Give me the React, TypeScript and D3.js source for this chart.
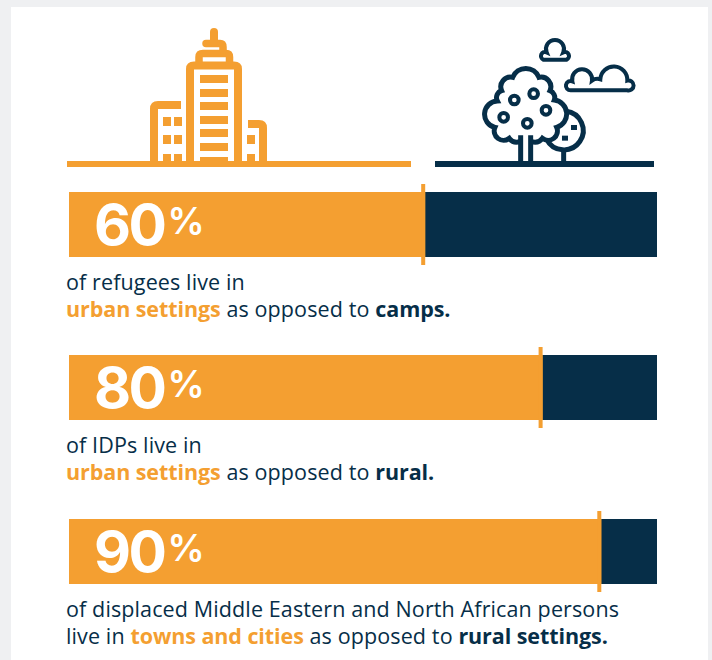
import React from "react";
import * as d3 from "d3";

const ORANGE = "#f49f31";
const NAVY = "#062e48";
const FONT = "'Open Sans', sans-serif";

const percentValues = [60, 80, 90];
const percentLabels = ["60", "80", "90"];
const firstParts = [
  [{ t: "of refugees live in" }],
  [{ t: "of IDPs live in" }],
  [{ t: "of displaced Middle Eastern and North African persons" }],
];
const secondParts = [
  [{ t: "urban settings", k: "o" }, { t: " as opposed to " }, { t: "camps.", k: "b" }],
  [{ t: "urban settings", k: "o" }, { t: " as opposed to " }, { t: "rural.", k: "b" }],
  [{ t: "live in " }, { t: "towns and cities", k: "o" }, { t: " as opposed to " }, { t: "rural settings.", k: "b" }],
];

const x = d3.scaleLinear().domain([0, 100]).range([73, 660]);
const y = d3.scaleBand<number>().domain([0, 1, 2]).range([192, 682.2]).paddingInner(0).paddingOuter(0);
const barH = 65;
const barLeft = 69;
const barRight = 657;

function Spans({ parts }: { parts: { t: string; k?: string }[] }) {
  return (
    <>
      {parts.map((p, i) => (
        <tspan
          key={i}
          fill={p.k === "o" ? ORANGE : NAVY}
          fontWeight={p.k ? 700 : 400}
          letterSpacing={p.k ? -0.08 : 0.12}
          style={{ whiteSpace: "pre" }}
        >
          {p.t}
        </tspan>
      ))}
    </>
  );
}

function City() {
  const rungs = [75, 89, 102, 116, 129, 143];
  const s = { fill: "none", stroke: ORANGE, strokeWidth: 8 };
  return (
    <g>
      <rect x={67} y={161} width={344} height={6} fill={ORANGE} />
      <path d="M190 161V69Q190 65.500 194 65.500H234Q238 65.500 238 69V161" {...s} />
      <path d="M199 62V57Q199 53.500 203 53.500H226Q229.500 53.500 229.500 57V62" {...s} strokeWidth={7.5} />
      <path d="M206 43.500H220Q223 43.500 223 47V50" {...s} strokeLinecap="round" strokeWidth={7.5} />
      <path d="M214 32V42" {...s} strokeLinecap="round" />
      {rungs.map((r) => <rect key={r} x={200} y={r} width={28} height={8} fill={ORANGE} />)}
      <rect x={200} y={157} width={28} height={5} fill={ORANGE} />
      <path d="M154 161V109Q154 105 158 105H181" {...s} />
      {[163, 174].flatMap((wx) => [117, 135, 154].map((wy) => (
        <rect key={wx + "-" + wy} x={wx} y={wy} width={8} height={wy === 154 ? 7 : 9} fill={ORANGE} />
      )))}
      <path d="M248 124H259Q263 124 263 128V161" {...s} />
      {[135, 154].map((wy) => <rect key={wy} x={247} y={wy} width={8} height={wy === 154 ? 7 : 9} fill={ORANGE} />)}
    </g>
  );
}

function Nature() {
  const rings = [[283, 240], [341, 221], [378, 271], [251, 292], [322, 310]];
  const s = { fill: "none", stroke: NAVY, strokeWidth: 15 };
  return (
    <g>
      <rect x={435} y={161} width={219} height={6} fill={NAVY} />
      <g transform="translate(420,20) scale(0.3333)">
        <path d="M302 364Q280 372 268 355A28 28 0 0 1 225 322A40 40 0 0 1 232 243A22 22 0 0 1 245 212A29 29 0 0 1 278 172A42.500 42.500 0 0 1 357 172A29 29 0 0 1 390 212A22 22 0 0 1 403 240A42 42 0 0 1 410 322A28 28 0 0 1 367 355Q355 372 332 364" {...s} />
        <path d="M302 346V425M332 346V425" {...s} />
        <path d="M438 274A58 58 0 1 1 380 358" {...s} />
        <path d="M431 392V425" {...s} />
        <rect x={453} y={315} width={18} height={15} fill={NAVY} />
        <rect x={426} y={347} width={18} height={15} fill={NAVY} />
        {rings.map(([cx, cy]) => <circle key={cx} cx={cx} cy={cy} r={13} fill="none" stroke={NAVY} strokeWidth={12} />)}
        <path d="M370 119H440A12 12 0 1 0 430 97A27 27 0 1 0 380 97A12 12 0 1 0 370 119Z" {...s} strokeWidth={12} />
        <path d="M452 211H622A15 15 0 1 0 622 182A40 40 0 1 0 541 178A28 28 0 0 0 516 182A30 30 0 1 0 457 184A14 14 0 1 0 452 211Z" {...s} strokeWidth={12} />
      </g>
    </g>
  );
}

export default function App() {
  return (
    <svg width={712} height={660} viewBox="0 0 712 660" style={{ position: "absolute", left: 0, top: 0, fontFamily: FONT }}>
      <rect width={712} height={660} fill="#eff0f2" />
      <rect x={11} y={7} width={697} height={653} fill="#fff" />
      <City />
      <Nature />
      {percentValues.map((v, i) => {
        const top = Math.round(y(i)!);
        const end = x(v);
        return (
          <g key={v}>
            <rect x={barLeft} y={top} width={barRight - barLeft} height={barH} fill={NAVY} />
            <rect x={barLeft} y={top} width={end - barLeft} height={barH} fill={ORANGE} />
            <rect x={end - 4} y={top - 8} width={4} height={barH + 16} fill={ORANGE} />
            <text x={94} y={top + 53} fill="#fff" fontSize={57} fontWeight={700} fontFamily="Inter, sans-serif" letterSpacing={-2.5}>{percentLabels[i]}</text>
            <text x={167.500} y={top + 42} fill="#fff" fontSize={37} fontWeight={600} fontFamily="Inter, sans-serif">%</text>
            <text x={66} y={top + 98} fontSize={21.5} fill={NAVY}><Spans parts={firstParts[i]} /></text>
            <text x={66} y={top + 125} fontSize={21.5} fill={NAVY}><Spans parts={secondParts[i]} /></text>
          </g>
        );
      })}
    </svg>
  );
}
